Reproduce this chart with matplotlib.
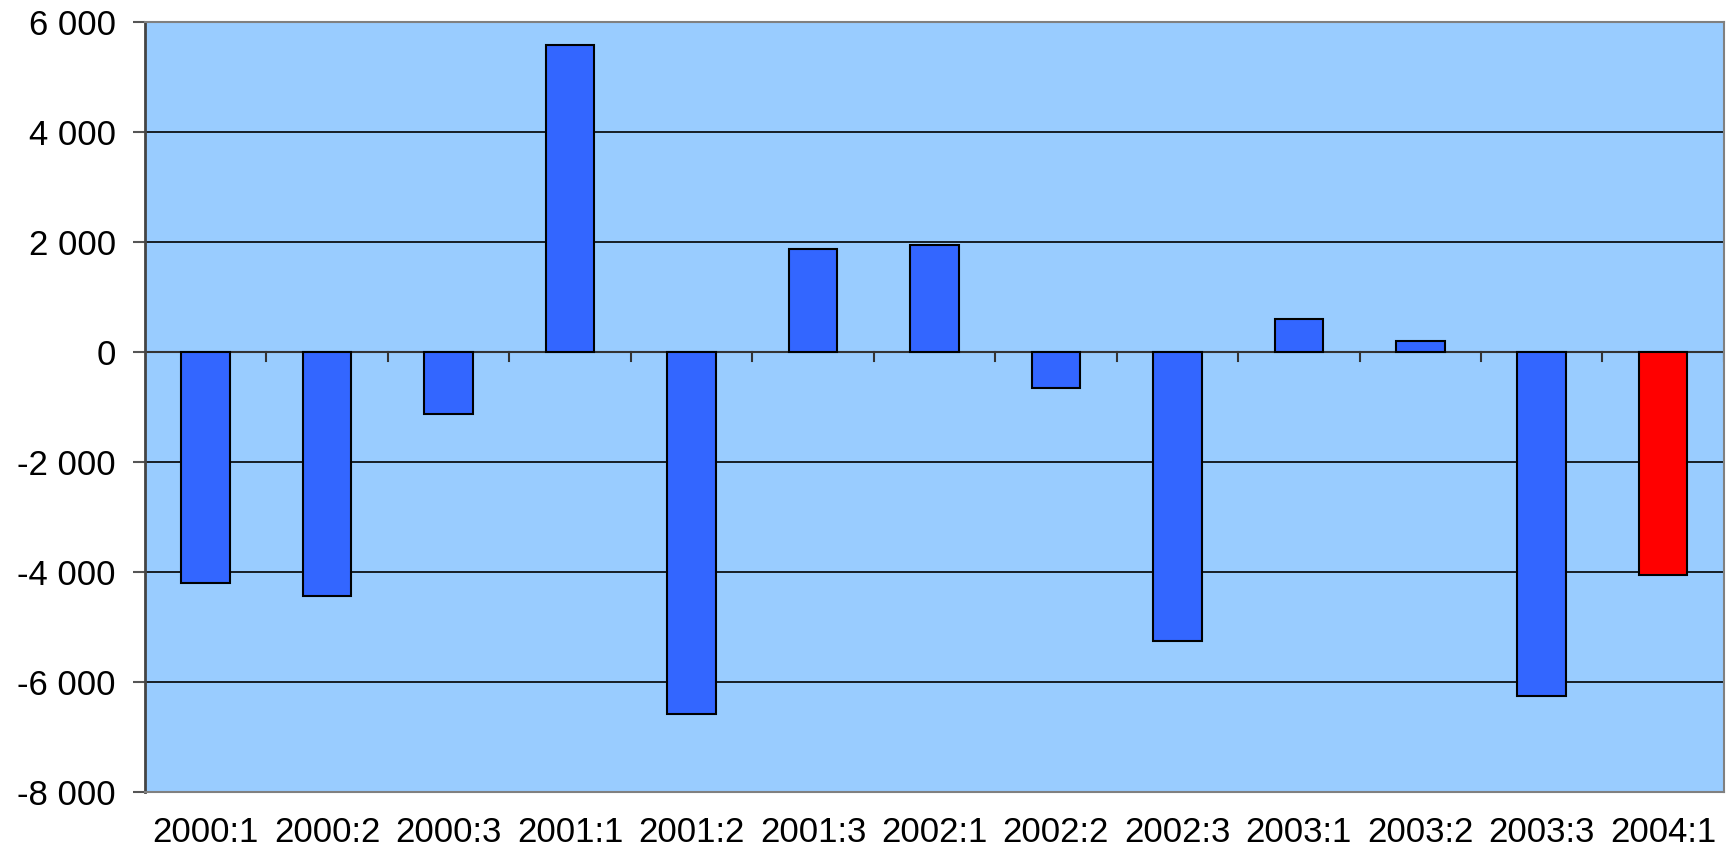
import matplotlib.pyplot as plt
from matplotlib.ticker import FuncFormatter

plt.rcParams['font.family'] = ['Liberation Sans', 'DejaVu Sans']

# Datos
periodos = ['2000:1', '2000:2', '2000:3', '2001:1', '2001:2', '2001:3', '2002:1',
            '2002:2', '2002:3', '2003:1', '2003:2', '2003:3', '2004:1']
valores = [-4200, -4440, -1120, 5580, -6580, 1880, 1940,
           -660, -5260, 600, 200, -6260, -4060]
colores = ['#3366FF'] * 12 + ['#FF0000']

fig = plt.figure(figsize=(17.26, 8.47), dpi=100)
ax = fig.add_axes([0.084, 0.065, 0.9148, 0.909])
ax.set_facecolor('#99CCFF')

x = list(range(len(periodos)))
ax.bar(x, valores, width=0.4, color=colores, edgecolor='black', linewidth=1.5, zorder=3)

ax.set_xlim(-0.5, len(periodos) - 0.5)
ax.set_ylim(-8000, 6000)
ax.set_yticks(range(-8000, 6001, 2000))
ax.yaxis.set_major_formatter(FuncFormatter(lambda v, p: f'{int(v):,}'.replace(',', ' ')))

# grilla
ax.yaxis.grid(True, color='black', linewidth=1.2, zorder=1)
ax.axhline(0, color='#333333', linewidth=1.5, zorder=2)

# marcas del eje x sobre la linea del cero
for b in range(1, len(periodos) + 1):
    ax.plot([b - 0.5, b - 0.5], [0, -170], color='#333333', linewidth=1.5, zorder=2)

ax.set_xticks(x)
ax.set_xticklabels(periodos)
ax.tick_params(axis='x', length=0, pad=17, labelsize=25)
ax.tick_params(axis='y', length=9, width=1.5, color='#555555', pad=12, labelsize=25)

for s in ['top', 'right', 'bottom']:
    ax.spines[s].set_color('#808080')
    ax.spines[s].set_linewidth(1.5)
ax.spines['left'].set_color('#444444')
ax.spines['left'].set_linewidth(2)

fig.savefig('out.png', dpi=100)
